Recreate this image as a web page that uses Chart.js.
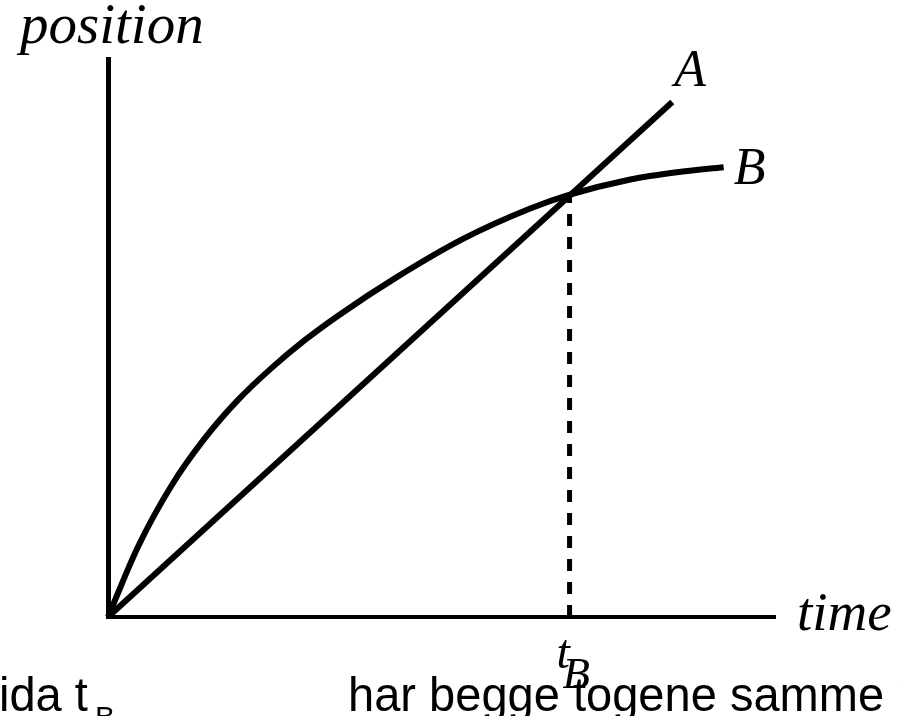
<!DOCTYPE html>
<html>
<head>
<meta charset="utf-8">
<script src="https://cdn.jsdelivr.net/npm/chart.js@4"></script>
<style>
  html, body { margin: 0; padding: 0; background: #fff; overflow: hidden; }
  #plot { display: block; }
</style>
</head>
<body>
<canvas id="plot" width="898" height="716"></canvas>
<script>
// values (time and position in 0..100 units)
const timeA = [0, 84.6];
const posA = [0, 92.3];

const timeB = [0, 4.5, 9.6, 14.5, 19.5, 24.5, 29.5, 34.5, 43.3, 53.3, 63.3, 69.0, 78.3, 85.3, 92.3];
const posB = [0, 12.6, 23.7, 32.0, 38.9, 44.6, 49.6, 54.0, 60.9, 67.8, 73.2, 75.6, 78.4, 79.7, 80.6];

const tB = 69.2;
const posAtTB = 75.5;

const axisTitles = { x: 'time', y: 'position' };
const seriesNames = ['A', 'B'];
const captionLeft = 'ida t';
const captionRight = 'har begge togene samme t';

function toPoints(xs, ys) {
    return xs.map((x, i) => ({ x: x, y: ys[i] }));
}

const serifFamily = '"Liberation Serif", "DejaVu Serif", serif';
const sansFamily = '"Liberation Sans", Arial, sans-serif';

// labels drawn on top of the plot
const labelPlugin = {
    id: 'labels',
    afterDraw(chart) {
        const ctx = chart.ctx;
        const xs = chart.scales.x;
        const ys = chart.scales.y;
        ctx.save();
        ctx.fillStyle = '#000';
        ctx.textBaseline = 'alphabetic';
        ctx.textAlign = 'left';

        ctx.font = 'italic 57px ' + serifFamily;
        ctx.fillText(axisTitles.y, 20, 43);
        ctx.font = 'italic 55px ' + serifFamily;
        ctx.fillText(axisTitles.x, 797, 630);

        // series names at the line ends
        ctx.font = 'italic 52px ' + serifFamily;
        const aEnd = timeA.length - 1;
        ctx.fillText(seriesNames[0], xs.getPixelForValue(timeA[aEnd]) + 2, ys.getPixelForValue(posA[aEnd]) - 16);
        const bEnd = timeB.length - 1;
        ctx.fillText(seriesNames[1], xs.getPixelForValue(timeB[bEnd]) + 10, ys.getPixelForValue(posB[bEnd]) + 17);

        // t_B under the axis
        const xB = xs.getPixelForValue(tB);
        ctx.font = 'italic 48px ' + serifFamily;
        ctx.fillText('t', xB - 13, 668);
        ctx.font = 'italic 45px ' + serifFamily;
        ctx.fillText('B', xB - 7, 688);

        // caption line (cut by the picture edges)
        ctx.save();
        ctx.scale(0.96, 1);
        ctx.font = '49px ' + sansFamily;
        ctx.fillText(captionLeft, -1 / 0.96, 711);
        ctx.fillText(captionRight, 348 / 0.96, 711);
        ctx.restore();
        ctx.font = '30px ' + sansFamily;
        ctx.fillText('B', 95, 727);

        ctx.restore();
    }
};

new Chart(document.getElementById('plot'), {
    type: 'scatter',
    data: {
        datasets: [
            {
                label: seriesNames[0],
                data: toPoints(timeA, posA),
                showLine: true,
                borderColor: '#000',
                borderWidth: 6,
                pointRadius: 0,
                clip: false
            },
            {
                label: seriesNames[1],
                data: toPoints(timeB, posB),
                showLine: true,
                cubicInterpolationMode: 'monotone',
                borderColor: '#000',
                borderWidth: 6,
                pointRadius: 0,
                clip: false
            },
            {
                label: 'tB',
                data: toPoints([tB, tB], [0, posAtTB]),
                showLine: true,
                borderColor: '#000',
                borderWidth: 5,
                borderDash: [12, 11],
                pointRadius: 0,
                clip: false
            }
        ]
    },
    options: {
        responsive: false,
        animation: false,
        events: [],
        layout: {
            padding: { left: 108, top: 59, right: 123, bottom: 99 }
        },
        plugins: {
            legend: { display: false },
            tooltip: { enabled: false }
        },
        scales: {
            x: {
                type: 'linear',
                min: 0,
                max: 100,
                ticks: { display: false, padding: 0 },
                grid: { display: false, drawTicks: false },
                border: { display: true, color: '#000', width: 4 }
            },
            y: {
                type: 'linear',
                min: 0,
                max: 100,
                ticks: { display: false, padding: 0 },
                grid: { display: false, drawTicks: false },
                border: { display: true, color: '#000', width: 5 }
            }
        }
    },
    plugins: [labelPlugin]
});
</script>
</body>
</html>
